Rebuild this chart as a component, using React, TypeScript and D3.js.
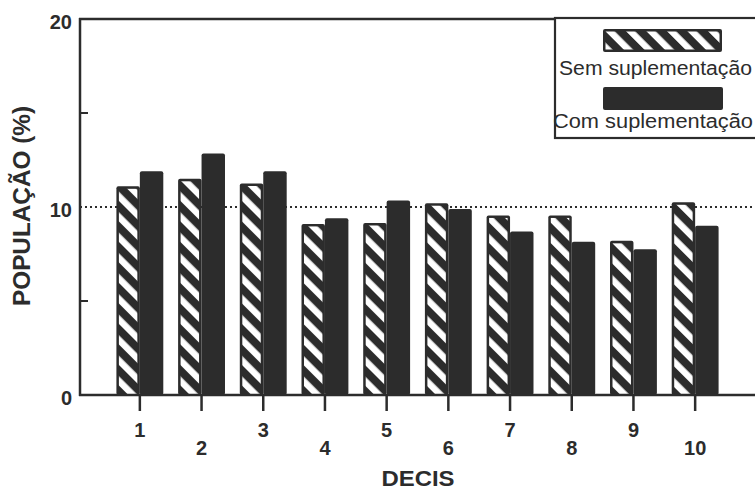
import React from 'react';
import * as d3 from 'd3';

const deciles = ['1', '2', '3', '4', '5', '6', '7', '8', '9', '10'];
const semValues = [11.1, 11.5, 11.25, 9.1, 9.15, 10.2, 9.55, 9.55, 8.2, 10.25];
const comValues = [11.9, 12.85, 11.9, 9.4, 10.35, 9.9, 8.7, 8.15, 7.75, 9.0];
const yTickLabels = [0, 10, 20];
const yMinorTicks = [5, 15];
const seriesNames = ['Sem suplementação', 'Com suplementação'];

const W = 755;
const H = 491;
const DARK = '#2c2c2c';
const FONT = '"Liberation Sans", Arial, Helvetica, sans-serif';

export default function App() {
  const left = 80;
  const right = 755;
  const top = 19;
  const bottom = 395;

  const y = d3.scaleLinear().domain([0, 20]).range([bottom, top]);
  const x = d3.scaleBand<string>().domain(deciles).range([109, 726]).paddingInner(0);
  const bw = x.bandwidth() * 0.38;
  const center = (d: string) => (x(d) as number) + x.bandwidth() / 2;

  return (
    <svg
      width={W}
      height={H}
      viewBox={`0 0 ${W} ${H}`}
      style={{ position: 'absolute', left: 0, top: 0, background: '#fff' }}
      fontFamily={FONT}
    >
      <defs>
        <pattern
          id="hatch"
          patternUnits="userSpaceOnUse"
          width={14.5}
          height={14.5}
          patternTransform="rotate(-45)"
        >
          <rect x={0} y={0} width={14.5} height={14.5} fill={DARK} />
          <rect x={0} y={0} width={6.5} height={14.5} fill="#fff" />
        </pattern>
      </defs>

      {/* dotted reference line at 10 */}
      <line
        x1={left}
        x2={right}
        y1={y(10)}
        y2={y(10)}
        stroke={DARK}
        strokeWidth={2}
        strokeDasharray="2,3"
      />

      {/* bars */}
      {deciles.map((d, i) => {
        const cx = center(d);
        const ys = y(semValues[i]);
        const yc = y(comValues[i]);
        return (
          <g key={d}>
            <rect x={cx - bw} y={ys} width={bw} height={bottom - ys} fill={DARK} rx={2} />
            <rect
              x={cx - bw + 2.5}
              y={ys + 2.5}
              width={bw - 5}
              height={bottom - ys - 2.5}
              fill="url(#hatch)"
            />
            <rect x={cx} y={yc} width={bw} height={bottom - yc} fill={DARK} rx={2} />
          </g>
        );
      })}

      {/* axes frame */}
      <line x1={left} x2={left} y1={top - 1} y2={bottom + 1} stroke={DARK} strokeWidth={2.5} />
      <line x1={left - 1} x2={right} y1={top} y2={top} stroke={DARK} strokeWidth={2.5} />
      <line x1={left - 1} x2={right} y1={bottom} y2={bottom} stroke={DARK} strokeWidth={2.5} />

      {/* y minor ticks */}
      {yMinorTicks.map((t) => (
        <line key={t} x1={left} x2={left + 8} y1={y(t)} y2={y(t)} stroke={DARK} strokeWidth={2} />
      ))}

      {/* y tick labels */}
      {yTickLabels.map((t) => (
        <text
          key={t}
          x={72}
          y={y(t) + 10}
          textAnchor="end"
          fontSize={20}
          fontWeight="bold"
          fill={DARK}
        >
          {t}
        </text>
      ))}

      {/* x ticks and labels */}
      {deciles.map((d, i) => {
        const cx = center(d);
        return (
          <g key={d}>
            <line x1={cx} x2={cx} y1={bottom} y2={411} stroke={DARK} strokeWidth={2.5} />
            <text
              x={cx}
              y={i % 2 === 0 ? 437 : 455}
              textAnchor="middle"
              fontSize={20}
              fontWeight="bold"
              fill={DARK}
            >
              {d}
            </text>
          </g>
        );
      })}

      {/* axis titles */}
      <text
        x={418}
        y={486}
        textAnchor="middle"
        fontSize={22}
        fontWeight="bold"
        fill={DARK}
        textLength={73}
        lengthAdjust="spacingAndGlyphs"
      >
        DECIS
      </text>
      <text
        transform="translate(30,206) rotate(-90)"
        textAnchor="middle"
        fontSize={23}
        fontWeight="bold"
        fill={DARK}
        textLength={200}
        lengthAdjust="spacingAndGlyphs"
      >
        POPULAÇÃO (%)
      </text>

      {/* legend */}
      <rect x={555} y={top - 1} width={215} height={120} fill="#fff" stroke={DARK} strokeWidth={2.2} />
      <rect x={603} y={29} width={119} height={23} fill={DARK} rx={2} />
      <rect x={605.5} y={31.5} width={114} height={18} fill="url(#hatch)" />
      <text
        x={559}
        y={75}
        fontSize={20}
        fill={DARK}
        textLength={193}
        lengthAdjust="spacingAndGlyphs"
      >
        {seriesNames[0]}
      </text>
      <rect x={603} y={87} width={120} height={23} fill={DARK} rx={2} />
      <text
        x={553}
        y={128}
        fontSize={20}
        fill={DARK}
        textLength={200}
        lengthAdjust="spacingAndGlyphs"
      >
        {seriesNames[1]}
      </text>
    </svg>
  );
}
